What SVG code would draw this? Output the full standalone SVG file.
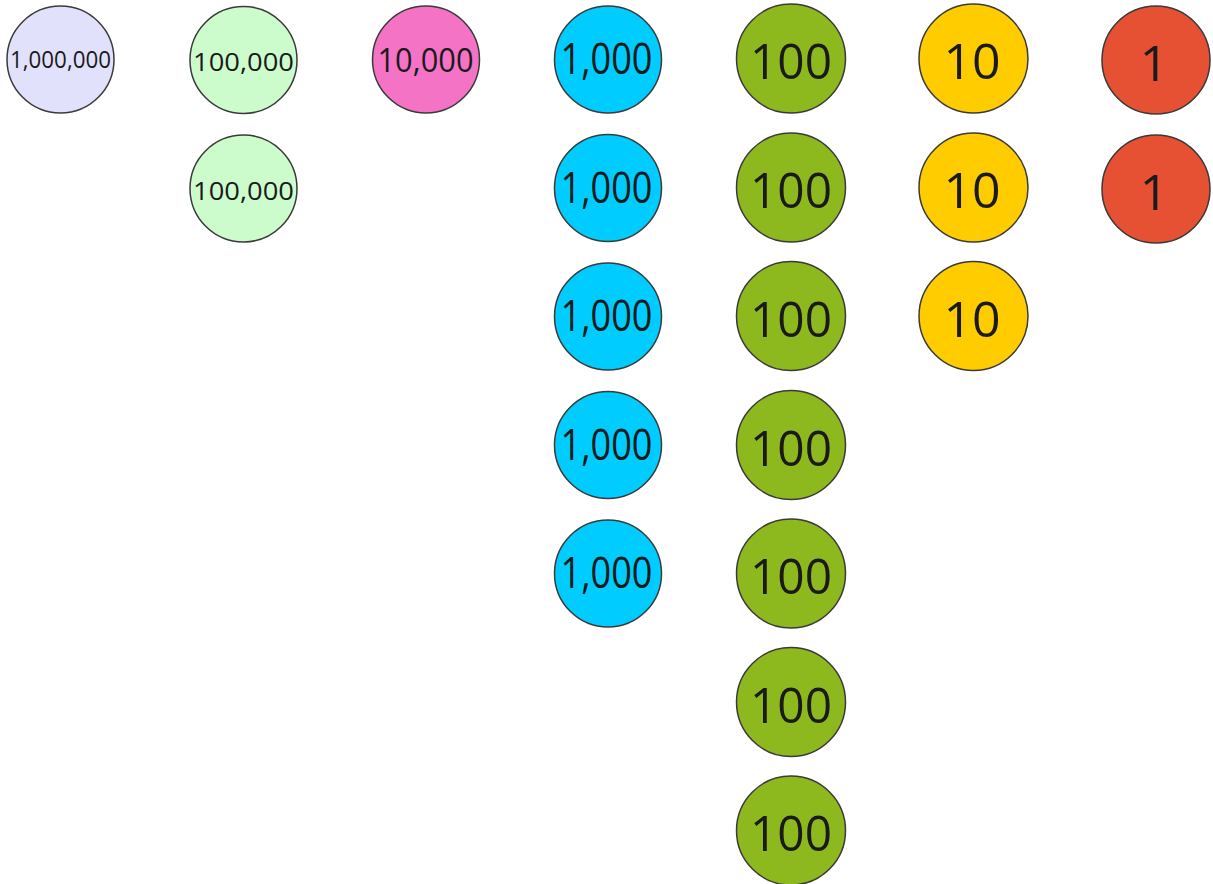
<svg xmlns="http://www.w3.org/2000/svg" width="1213" height="884" viewBox="0 0 1213 884">
<style>
circle{stroke:#3a3a3a;stroke-width:1.5}
text{font-family:"Open Sans","Noto Sans",sans-serif;fill:#1a1a1a;text-anchor:middle}
.m{fill:#e2e1fb}.h{fill:#cdfccc}.t{fill:#f473c5}.k{fill:#00ccff}.c{fill:#8db91f}.d{fill:#ffcc00}.o{fill:#e65133}
.f1{font-size:23px}.f2{font-size:26px}.f3{font-size:33px}.f4{font-size:43px}.f5{font-size:50px}
</style>
<rect width="1213" height="884" fill="#ffffff"/>
<g id="connectors"/>
<g id="n1m"><circle class="m" cx="60.5" cy="59.5" r="53.5"/><text class="f1" x="60.5" y="68" textLength="101" lengthAdjust="spacingAndGlyphs">1,000,000</text></g>
<g id="n100k1"><circle class="h" cx="243.5" cy="60" r="53.5"/><text class="f2" x="243.5" y="71" textLength="101" lengthAdjust="spacingAndGlyphs">100,000</text></g>
<g id="n100k2"><circle class="h" cx="243.5" cy="188.5" r="53.5"/><text class="f2" x="243.5" y="199.5" textLength="101" lengthAdjust="spacingAndGlyphs">100,000</text></g>
<g id="n10k"><circle class="t" cx="426" cy="59.5" r="53.5"/><text class="f3" x="425.5" y="71.5" textLength="96" lengthAdjust="spacingAndGlyphs">10,000</text></g>
<g id="n1k1"><circle class="k" cx="608" cy="59.5" r="53.5"/><text class="f4" x="606.5" y="74" textLength="92" lengthAdjust="spacingAndGlyphs">1,000</text></g>
<g id="n1k2"><circle class="k" cx="608" cy="188" r="53.5"/><text class="f4" x="606.5" y="202.5" textLength="92" lengthAdjust="spacingAndGlyphs">1,000</text></g>
<g id="n1k3"><circle class="k" cx="608" cy="316.5" r="53.5"/><text class="f4" x="606.5" y="331" textLength="92" lengthAdjust="spacingAndGlyphs">1,000</text></g>
<g id="n1k4"><circle class="k" cx="608" cy="445" r="53.5"/><text class="f4" x="606.5" y="459.5" textLength="92" lengthAdjust="spacingAndGlyphs">1,000</text></g>
<g id="n1k5"><circle class="k" cx="608" cy="573.5" r="53.5"/><text class="f4" x="606.5" y="588" textLength="92" lengthAdjust="spacingAndGlyphs">1,000</text></g>
<g id="n100a"><circle class="c" cx="791" cy="58.5" r="54.5"/><text class="f5" x="791" y="79" textLength="82" lengthAdjust="spacingAndGlyphs">100</text></g>
<g id="n100b"><circle class="c" cx="791" cy="187.5" r="54.5"/><text class="f5" x="791" y="208" textLength="82" lengthAdjust="spacingAndGlyphs">100</text></g>
<g id="n100c"><circle class="c" cx="791" cy="316" r="54.5"/><text class="f5" x="791" y="336.5" textLength="82" lengthAdjust="spacingAndGlyphs">100</text></g>
<g id="n100d"><circle class="c" cx="791" cy="445" r="54.5"/><text class="f5" x="791" y="465.5" textLength="82" lengthAdjust="spacingAndGlyphs">100</text></g>
<g id="n100e"><circle class="c" cx="791" cy="573.5" r="54.5"/><text class="f5" x="791" y="594" textLength="82" lengthAdjust="spacingAndGlyphs">100</text></g>
<g id="n100f"><circle class="c" cx="791" cy="702" r="54.5"/><text class="f5" x="791" y="722.5" textLength="82" lengthAdjust="spacingAndGlyphs">100</text></g>
<g id="n100g"><circle class="c" cx="791" cy="830.5" r="54.5"/><text class="f5" x="791" y="851" textLength="82" lengthAdjust="spacingAndGlyphs">100</text></g>
<g id="n10a"><circle class="d" cx="973.5" cy="58.5" r="54.5"/><text class="f5" x="972" y="79">10</text></g>
<g id="n10b"><circle class="d" cx="973.5" cy="187.5" r="54.5"/><text class="f5" x="972" y="208">10</text></g>
<g id="n10c"><circle class="d" cx="973.5" cy="316" r="54.5"/><text class="f5" x="972" y="336.5">10</text></g>
<g id="n1a"><circle class="o" cx="1156" cy="60" r="54"/><text class="f5" x="1154" y="80.5">1</text></g>
<g id="n1b"><circle class="o" cx="1156" cy="189" r="54"/><text class="f5" x="1154" y="209.5">1</text></g>
</svg>
